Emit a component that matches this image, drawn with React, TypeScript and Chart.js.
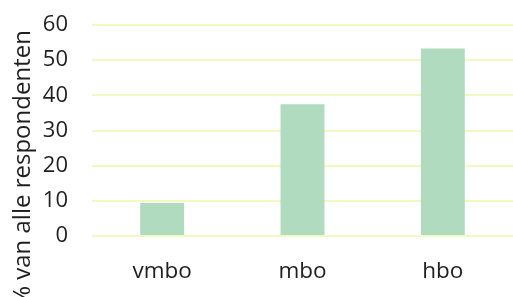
import React, { useEffect, useRef } from "react";
import { Chart, registerables } from "chart.js";

Chart.register(...registerables);

const categories = ["vmbo", "mbo", "hbo"];
const values = [9.4, 37.5, 53.3];
const axisTitle = "% van alle respondenten";

const FONT = "'Open Sans', sans-serif";

const yTitlePlugin = {
  id: "yTitlePlugin",
  afterDraw(chart: any) {
    const ctx = chart.ctx;
    ctx.save();
    ctx.translate(30, 168);
    ctx.rotate(-Math.PI / 2);
    ctx.font = `24px ${FONT}`;
    ctx.fillStyle = "#1f1f1f";
    ctx.textAlign = "center";
    ctx.textBaseline = "alphabetic";
    ctx.fillText(axisTitle, 0, 0);
    ctx.restore();
  },
};

export default function App() {
  const ref = useRef<HTMLCanvasElement>(null);
  useEffect(() => {
    if (!ref.current) return;
    const chart = new Chart(ref.current, {
      type: "bar",
      data: {
        labels: categories,
        datasets: [
          {
            data: values,
            backgroundColor: "#b1dbbf",
            borderWidth: 0,
            barPercentage: 0.313,
            categoryPercentage: 1,
          },
        ],
      },
      options: {
        animation: false,
        responsive: false,
        maintainAspectRatio: false,
        layout: { padding: { top: 25, right: 0, left: 0, bottom: 0 } },
        plugins: { legend: { display: false }, tooltip: { enabled: false }, title: { display: false } },
        scales: {
          x: {
            grid: { display: false, drawTicks: false },
            border: { display: false },
            ticks: { color: "#1f1f1f", font: { family: FONT, size: 22.5 }, padding: 22 },
            afterFit(scale: any) {
              scale.height = 61;
              scale.paddingLeft = 0;
              scale.paddingRight = 0;
            },
          },
          y: {
            min: 0,
            max: 60,
            ticks: { stepSize: 10, color: "#1f1f1f", font: { family: FONT, size: 22 }, padding: 24 },
            grid: { color: "#f1fac2", lineWidth: 2, drawTicks: false },
            border: { display: false },
            afterFit(scale: any) {
              scale.width = 92;
              scale.paddingTop = 0;
              scale.paddingBottom = 0;
            },
          },
        },
      },
      plugins: [yTitlePlugin],
    });
    return () => chart.destroy();
  }, []);
  return (
    <div style={{ position: "fixed", left: 0, top: 0, width: 513, height: 297, background: "#fff" }}>
      <canvas ref={ref} width={513} height={297} style={{ width: 513, height: 297 }} />
    </div>
  );
}
